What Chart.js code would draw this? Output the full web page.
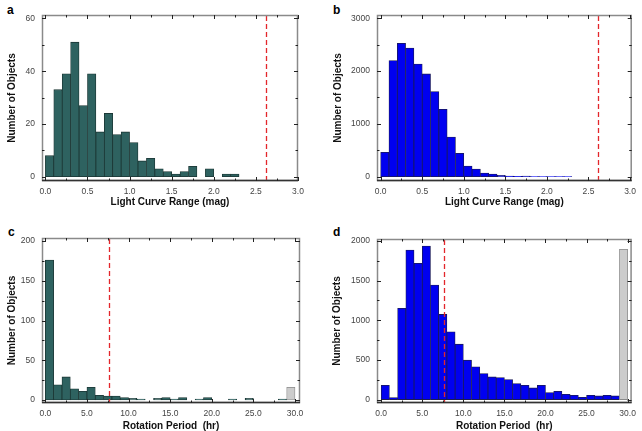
<!DOCTYPE html>
<html>
<head>
<meta charset="utf-8">
<script src="https://cdn.jsdelivr.net/npm/chart.js@4.4.1/dist/chart.umd.min.js"></script>
<style>
  html, body { margin: 0; padding: 0; background: #fff; overflow: hidden; }
  body { width: 642px; height: 431px; position: relative; }
  canvas { position: absolute; }
  .lbl { position: absolute; font: bold 12px "Liberation Sans", Arial, sans-serif; line-height: 12px; color: #000; }
</style>
</head>
<body>
<div class="lbl" style="left:7px;top:4px">a</div>
<div class="lbl" style="left:333px;top:4px">b</div>
<div class="lbl" style="left:8px;top:226px">c</div>
<div class="lbl" style="left:333px;top:226px">d</div>
<canvas id="chA" width="320" height="215" style="left:0;top:0"></canvas>
<canvas id="chB" width="322" height="215" style="left:320px;top:0"></canvas>
<canvas id="chC" width="320" height="224" style="left:0;top:215px"></canvas>
<canvas id="chD" width="322" height="224" style="left:320px;top:215px"></canvas>
<script>
// bins (start of each bin)
const rangeBins = [0.0, 0.1, 0.2, 0.3, 0.4, 0.5, 0.6, 0.7, 0.8, 0.9,
                   1.0, 1.1, 1.2, 1.3, 1.4, 1.5, 1.6, 1.7, 1.8, 1.9,
                   2.0, 2.1, 2.2, 2.3, 2.4, 2.5, 2.6, 2.7, 2.8, 2.9];
const periodBins = [0, 1, 2, 3, 4, 5, 6, 7, 8, 9, 10, 11, 12, 13, 14,
                    15, 16, 17, 18, 19, 20, 21, 22, 23, 24, 25, 26, 27, 28, 29];

// counts per bin
const rangeCountsA = [8, 33, 39, 51, 27, 39, 17, 24, 16, 17, 13, 6, 7, 3, 2,
                      1, 2, 4, 0, 3, 0, 1, 1, 0, 0, 0, 0, 0, 0, 0];
const rangeCountsB = [461, 2198, 2527, 2438, 2135, 1946, 1611, 1276, 752, 442,
                      202, 145, 70, 50, 25, 13, 6, 10, 5, 3, 3, 2, 2, 0, 0, 0, 0, 0, 0, 0];
const periodCountsC = [176, 19, 29, 14, 11, 16, 6, 5, 5, 3, 2, 1, 0, 2, 3,
                       1, 3, 0, 1, 3, 0, 0, 1, 0, 2, 0, 0, 0, 1, 16];
const periodCountsD = [181, 25, 1150, 1886, 1718, 1937, 1444, 1074, 855, 699,
                       497, 413, 328, 286, 278, 253, 202, 181, 147, 181,
                       88, 105, 67, 55, 29, 55, 46, 55, 46, 1895];
const overflowBin = 29; // last period bin drawn in grey

// tick labels
const rangeTicks = [0, 0.5, 1.0, 1.5, 2.0, 2.5, 3.0];
const periodTicks = [0, 5, 10, 15, 20, 25, 30];
const yTicksA = [0, 20, 40, 60];
const yTicksB = [0, 1000, 2000, 3000];
const yTicksC = [0, 50, 100, 150, 200];
const yTicksD = [0, 500, 1000, 1500, 2000];

const rangeCut = 2.62;
const periodCut = 7.6;

const FONT = '"Liberation Sans", Arial, sans-serif';

// box with inward ticks on every side + dashed cut line
const framePlugin = {
  id: 'frame',
  afterDatasetsDraw(chart, args, o) {
    const {ctx, chartArea: a, scales: {x, y}} = chart;
    ctx.save();
    ctx.strokeStyle = '#e3262b';
    ctx.lineWidth = 1.3;
    ctx.setLineDash([5, 3]);
    const rx = Math.round(x.getPixelForValue(o.cut)) + 0.5;
    ctx.beginPath(); ctx.moveTo(rx, a.top + 1); ctx.lineTo(rx, a.bottom - 1); ctx.stroke();
    ctx.setLineDash([]);

    ctx.strokeStyle = '#8a8a8a';
    ctx.lineWidth = 1.5;
    ctx.strokeRect(a.left + 0.5, a.top + 0.5, a.width - 1, a.height - 1);
    ctx.strokeStyle = '#333';
    ctx.lineWidth = 1.5;
    ctx.beginPath(); ctx.moveTo(a.left, a.bottom - 0.5); ctx.lineTo(a.right, a.bottom - 0.5); ctx.stroke();

    ctx.strokeStyle = '#222';
    ctx.lineWidth = 1;
    ctx.beginPath();
    const nx = Math.round(o.xMax / o.xMinor);
    for (let i = 0; i <= nx; i++) {
      const px = Math.round(x.getPixelForValue(i * o.xMinor)) + 0.5;
      const len = i % 2 === 0 ? 4 : 2.5;
      ctx.moveTo(px, a.bottom); ctx.lineTo(px, a.bottom - len);
      ctx.moveTo(px, a.top); ctx.lineTo(px, a.top + len);
    }
    const ny = Math.round(o.yMax / o.yMinor);
    for (let i = 0; i <= ny; i++) {
      const py = Math.round(y.getPixelForValue(i * o.yMinor)) + 0.5;
      const len = i % 2 === 0 ? 4 : 2.5;
      ctx.moveTo(a.left, py); ctx.lineTo(a.left + len, py);
      ctx.moveTo(a.right, py); ctx.lineTo(a.right - len, py);
    }
    ctx.stroke();
    ctx.restore();
  }
};

function histogram(id, cfg) {
  const half = cfg.binWidth / 2;
  const points = cfg.bins.map((b, i) => ({x: b + half, y: cfg.counts[i]}));
  const fills = cfg.bins.map(b => (cfg.grey && b === overflowBin) ? '#cccccc' : cfg.color);
  const borders = cfg.bins.map(b => (cfg.grey && b === overflowBin) ? '#8a8a8a' : cfg.border);
  const canvas = document.getElementById(id);
  new Chart(canvas, {
    type: 'bar',
    data: {
      datasets: [{
        data: points,
        backgroundColor: fills,
        borderColor: borders,
        borderWidth: 0.8,
        borderSkipped: false,
        categoryPercentage: 1,
        barPercentage: 1,
        grouped: false
      }]
    },
    options: {
      responsive: false,
      animation: false,
      events: [],
      layout: { padding: { left: 0, top: cfg.top, right: canvas.width - cfg.right, bottom: 0 } },
      plugins: {
        legend: { display: false },
        tooltip: { enabled: false },
        frame: { cut: cfg.cut, xMinor: cfg.xMinor, xMax: cfg.xTicks[cfg.xTicks.length - 1],
                 yMinor: cfg.yMinor, yMax: cfg.yTicks[cfg.yTicks.length - 1] }
      },
      scales: {
        x: {
          type: 'linear',
          offset: false,
          min: cfg.xMin, max: cfg.xMax,
          grid: { display: false, drawTicks: false },
          border: { display: false },
          afterBuildTicks: s => { s.ticks = cfg.xTicks.map(v => ({value: v})); },
          afterFit: s => { s.height = canvas.height - cfg.bottom; },
          ticks: {
            autoSkip: false, maxRotation: 0, padding: 6,
            color: '#444', font: { family: FONT, size: 8.5 },
            callback: v => Number(v).toFixed(1)
          },
          title: {
            display: true, text: cfg.xTitle, color: '#111',
            font: { family: FONT, size: 10, weight: 'bold' },
            padding: { top: 0, bottom: 7 }
          }
        },
        y: {
          min: cfg.yMin, max: cfg.yMax,
          grid: { display: false, drawTicks: false },
          border: { display: false },
          afterBuildTicks: s => { s.ticks = cfg.yTicks.map(v => ({value: v})); },
          afterFit: s => { s.width = cfg.left; },
          ticks: {
            padding: 7, color: '#444', font: { family: FONT, size: 8.5 },
            callback: v => String(v)
          },
          title: {
            display: true, text: 'Number of Objects', color: '#111',
            font: { family: FONT, size: 10, weight: 'bold' },
            padding: { top: cfg.yTitlePad, bottom: 0 }
          }
        }
      }
    },
    plugins: [framePlugin]
  });
}

histogram('chA', {
  bins: rangeBins, counts: rangeCountsA, binWidth: 0.1,
  color: '#2e6260', border: '#1b3533',
  left: 42, right: 298, top: 15, bottom: 181,
  xMin: -0.04, xMax: 3.0, yMin: -1.6, yMax: 61.3,
  xTicks: rangeTicks, yTicks: yTicksA, xMinor: 0.25, yMinor: 10,
  xTitle: 'Light Curve Range (mag)', yTitlePad: 6, cut: rangeCut
});
histogram('chB', {
  bins: rangeBins, counts: rangeCountsB, binWidth: 0.1,
  color: '#0000f0', border: '#1a1a55',
  left: 57, right: 315, top: 15, bottom: 181,
  xMin: -0.044, xMax: 3.02, yMin: -81, yMax: 3062,
  xTicks: rangeTicks, yTicks: yTicksB, xMinor: 0.25, yMinor: 500,
  xTitle: 'Light Curve Range (mag)', yTitlePad: 12, cut: rangeCut
});
histogram('chC', {
  bins: periodBins, counts: periodCountsC, binWidth: 1, grey: true,
  color: '#2e6260', border: '#1b3533',
  left: 42, right: 300, top: 23, bottom: 188,
  xMin: -0.4, xMax: 30.6, yMin: -3.8, yMax: 203.8,
  xTicks: periodTicks, yTicks: yTicksC, xMinor: 2.5, yMinor: 25,
  xTitle: 'Rotation Period  (hr)', yTitlePad: 6, cut: periodCut
});
histogram('chD', {
  bins: periodBins, counts: periodCountsD, binWidth: 1, grey: true,
  color: '#0000f0', border: '#1a1a55',
  left: 57, right: 316, top: 24, bottom: 188,
  xMin: -0.51, xMax: 30.48, yMin: -43, yMax: 2025,
  xTicks: periodTicks, yTicks: yTicksD, xMinor: 2.5, yMinor: 250,
  xTitle: 'Rotation Period  (hr)', yTitlePad: 11, cut: periodCut
});
</script>
</body>
</html>
